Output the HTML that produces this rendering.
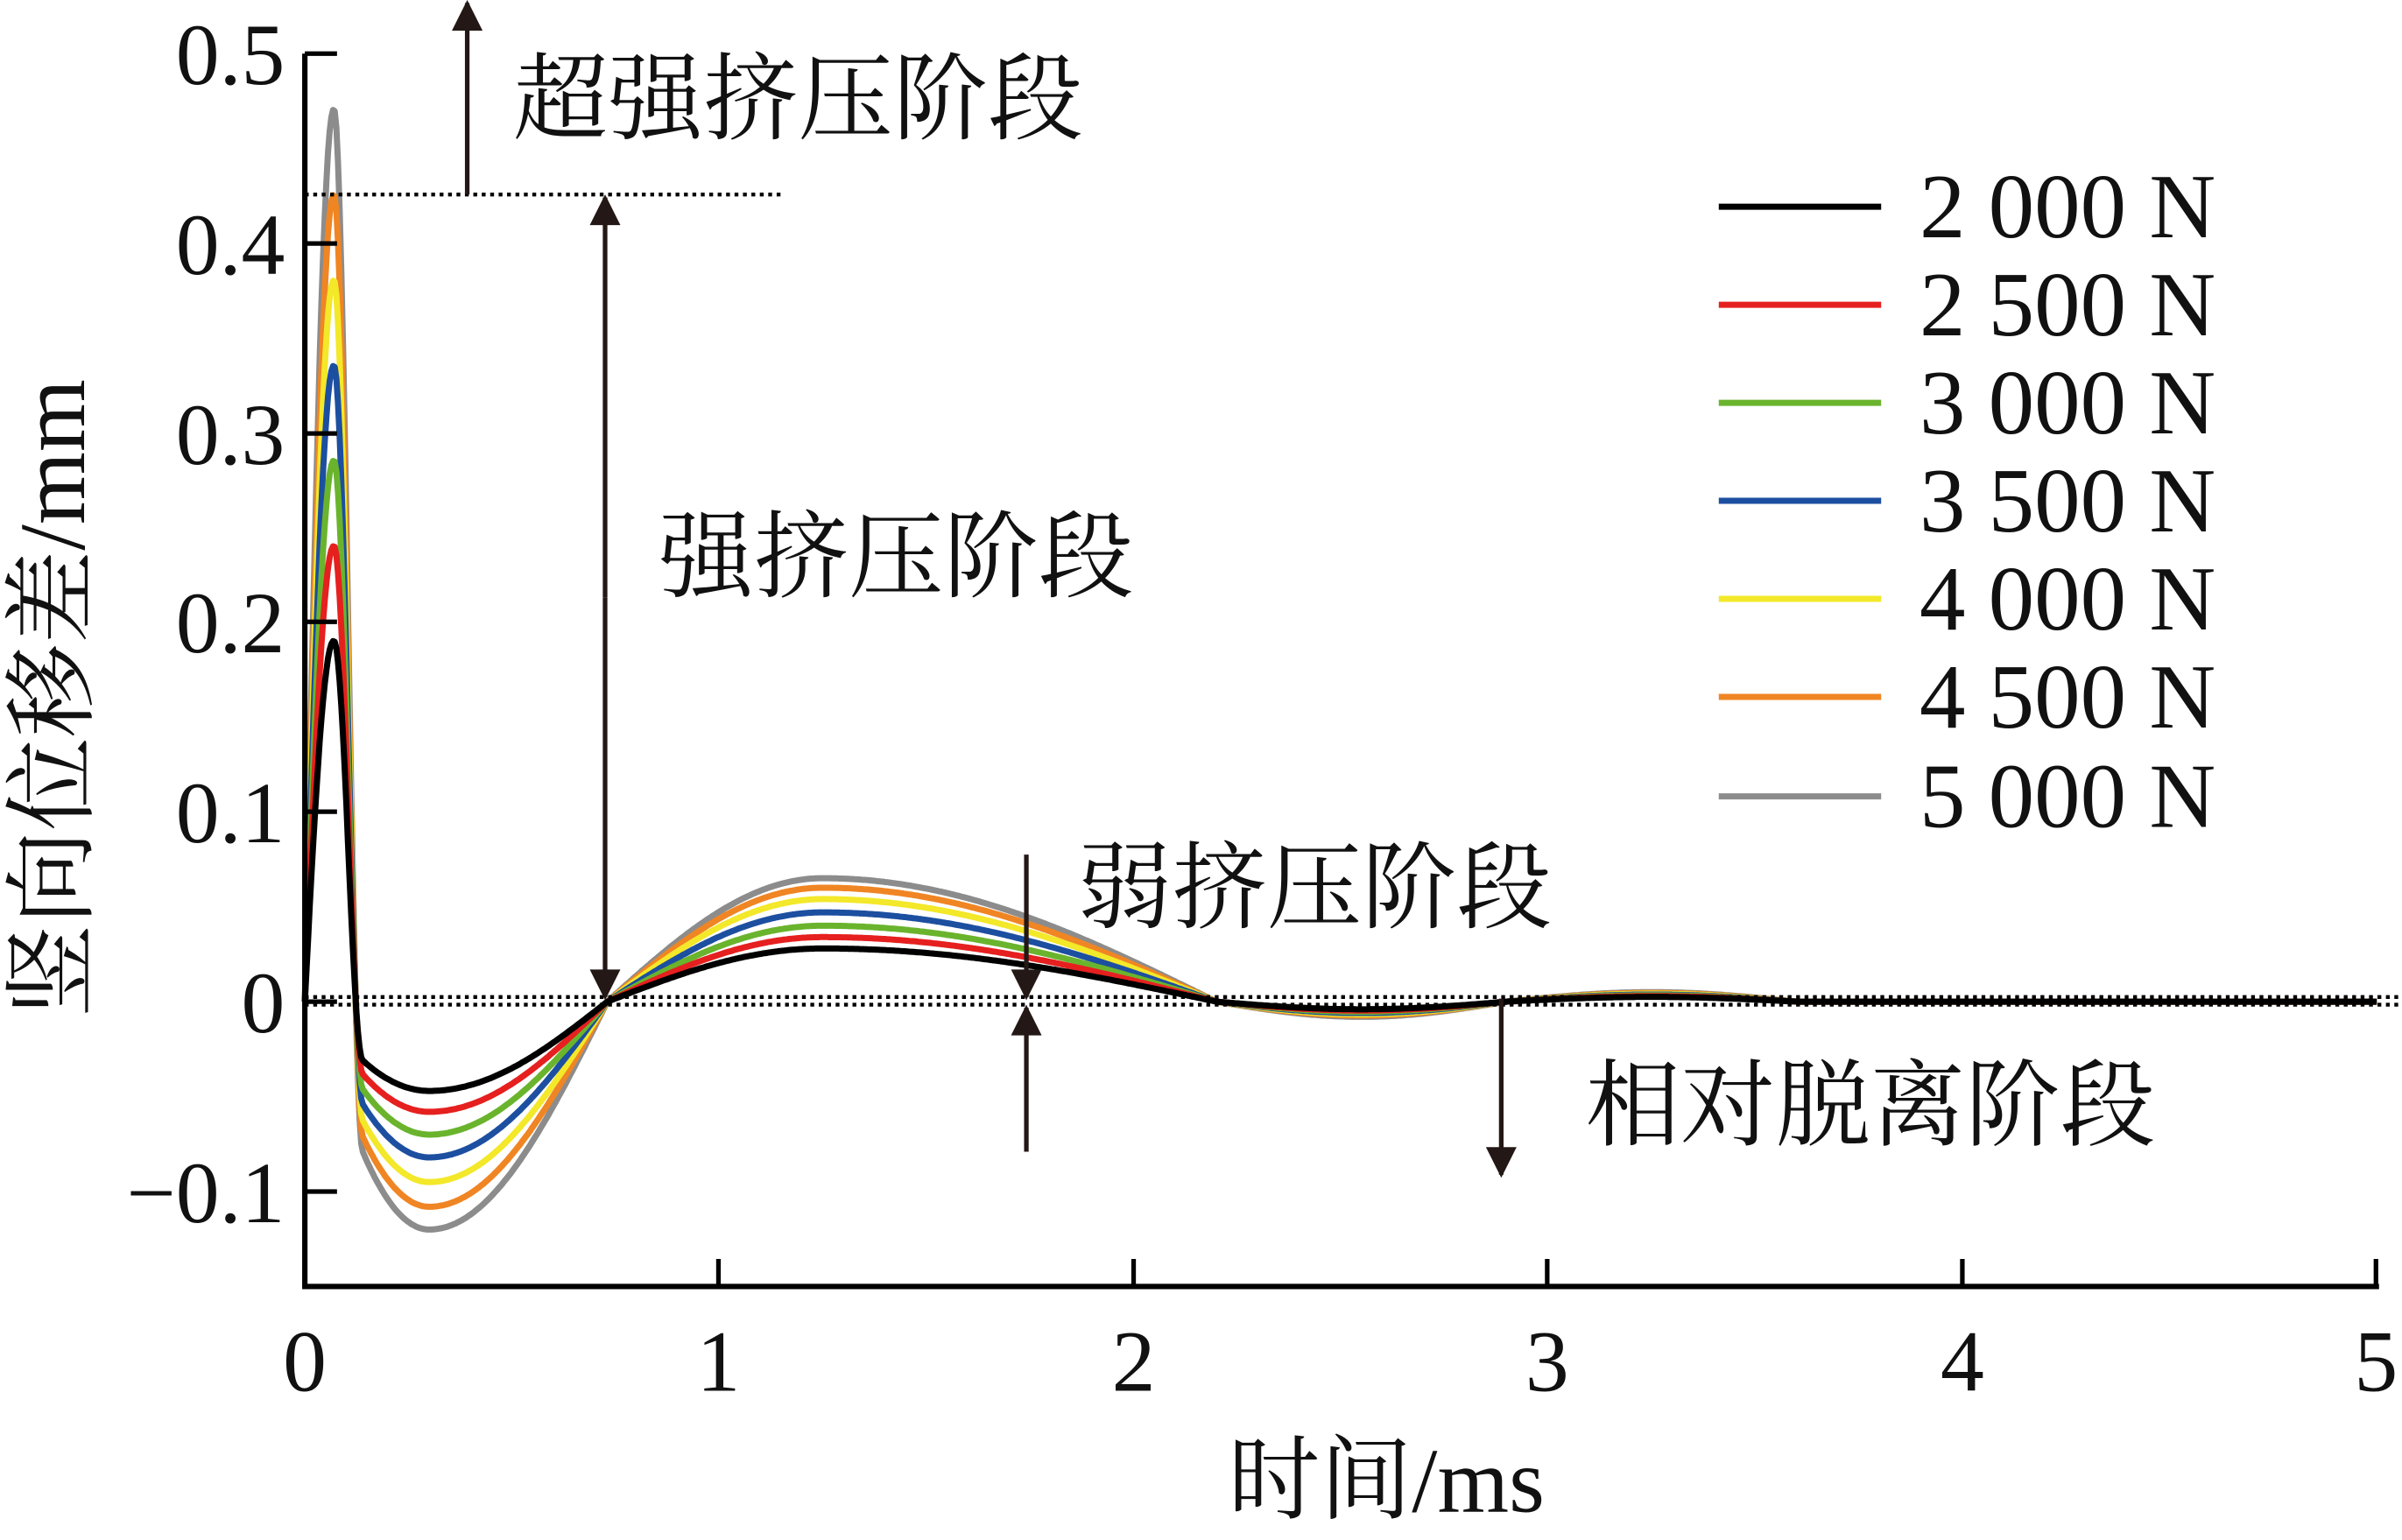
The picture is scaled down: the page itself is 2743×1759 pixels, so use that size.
<!DOCTYPE html>
<html><head><meta charset="utf-8"><style>
html,body{margin:0;padding:0;background:#fff;width:2743px;height:1759px;overflow:hidden}
svg{display:block}
text{font-family:"Liberation Serif","Noto Serif CJK SC",serif;fill:#111}
</style></head><body>
<svg id="s" width="2743" height="1759" viewBox="0 0 1568 1005.5" preserveAspectRatio="none" xmlns="http://www.w3.org/2000/svg">
<defs>
<marker id="ah" viewBox="0 0 10 10" refX="9" refY="5" markerWidth="26" markerHeight="20" orient="auto-start-reverse" markerUnits="userSpaceOnUse"><path d="M0,0 L10,5 L0,10 z" fill="#231815"/></marker>
</defs>
<g id="curves" fill="none" stroke-width="4" stroke-linejoin="round"></g>
<path d="M199,35 L199,840 L1553,840" fill="none" stroke="#000" stroke-width="3.5"/>
<g stroke="#000" stroke-width="3">
<line x1="199" y1="35" x2="220" y2="35"/><line x1="199" y1="159" x2="220" y2="159"/><line x1="199" y1="283" x2="220" y2="283"/><line x1="199" y1="406" x2="220" y2="406"/><line x1="199" y1="530" x2="220" y2="530"/><line x1="199" y1="654" x2="220" y2="654"/><line x1="199" y1="778" x2="220" y2="778"/>
<line x1="469" y1="840" x2="469" y2="822"/><line x1="740" y1="840" x2="740" y2="822"/><line x1="1010" y1="840" x2="1010" y2="822"/><line x1="1281" y1="840" x2="1281" y2="822"/><line x1="1551" y1="840" x2="1551" y2="822"/>
</g>
<g font-size="57" text-anchor="end">
<text x="186" y="55">0.5</text><text x="186" y="179">0.4</text><text x="186" y="303">0.3</text><text x="186" y="426">0.2</text><text x="186" y="550">0.1</text><text x="186" y="674">0</text><text x="186" y="798">−0.1</text>
</g>
<g font-size="57" text-anchor="middle">
<text x="199" y="908">0</text><text x="469" y="908">1</text><text x="740" y="908">2</text><text x="1010" y="908">3</text><text x="1281" y="908">4</text><text x="1551" y="908">5</text>
</g>
<text x="905" y="987" font-size="60" text-anchor="middle">时间/ms</text>
<text transform="translate(55,456) rotate(-90)" font-size="61" text-anchor="middle">竖向位移差/mm</text>
<g stroke="#000" stroke-width="2.5" stroke-dasharray="2.5,3">
<line x1="199" y1="127" x2="510" y2="127"/>
<line x1="199" y1="651" x2="1568" y2="651"/>
<line x1="199" y1="656" x2="1568" y2="656"/>
</g>
<g stroke="#231815" stroke-width="3" marker-end="url(#ah)">
<line x1="305" y1="127" x2="305" y2="2"/>
<line x1="395" y1="390" x2="395" y2="129"/>
<line x1="395" y1="390" x2="395" y2="651"/>
<line x1="670" y1="558" x2="670" y2="651"/>
<line x1="670" y1="752" x2="670" y2="658"/>
<line x1="980" y1="652" x2="980" y2="767"/>
</g>
<g font-size="62">
<text x="335" y="86">超强挤压阶段</text>
<text x="430" y="385">强挤压阶段</text>
<text x="703" y="601">弱挤压阶段</text>
<text x="1035" y="743">相对脱离阶段</text>
</g>
<g id="legend" stroke-width="4"></g>
<g font-size="60">
<text x="1253" y="155">2 000 N</text><text x="1253" y="219">2 500 N</text><text x="1253" y="283">3 000 N</text><text x="1253" y="347">3 500 N</text><text x="1253" y="411">4 000 N</text><text x="1253" y="475">4 500 N</text><text x="1253" y="540">5 000 N</text>
</g>
</svg>
<script>
var cols=["#000000","#e5201f","#6ab42d","#1c4fa0","#f3e829","#f08523","#8c8c8c"];
var P=[0.19,0.24,0.285,0.335,0.38,0.425,0.47];
var M=[-0.047,-0.058,-0.07,-0.082,-0.095,-0.108,-0.12];
var Q=[0.028,0.034,0.04,0.047,0.054,0.06,0.065];
var ns="http://www.w3.org/2000/svg";
function X(t){return 199+270.5*t}function Y(v){return 654-1240*v}
var cg=document.getElementById("curves"),lg=document.getElementById("legend");
var ys=[135,199,263,327,391,455,520];
for(var i=0;i<7;i++){
 var k=i/6+1, p=P[i],m=M[i],q=Q[i],a1=0.66*m,d="",pi=Math.PI;
 for(var t=0;t<=5.0001;t+=0.004){
  var v;
  if(t<=0.07)v=p*Math.sin(pi/2*t/0.07);
  else if(t<=0.14)v=a1+(p-a1)*(1+Math.cos(pi*(t-0.07)/0.07))/2;
  else if(t<=0.3){var u=(0.3-t)/0.16;v=m+(a1-m)*u*u;}
  else if(t<=0.73)v=m*Math.cos(pi/2*(t-0.3)/0.43);
  else if(t<=1.25)v=q*Math.sin(pi/2*(t-0.73)/0.52);
  else if(t<=2.2)v=q*Math.cos(pi/2*(t-1.25)/0.95);
  else if(t<=2.9)v=-0.004*k*Math.sin(pi*(t-2.2)/0.7);
  else if(t<=3.6)v=0.0025*k*Math.sin(pi*(t-2.9)/0.7);
  else v=0;
  d+=(d?"L":"M")+X(t).toFixed(1)+","+Y(v).toFixed(1);
 }
 var pa=document.createElementNS(ns,"path");pa.setAttribute("d",d);pa.setAttribute("stroke",cols[i]);cg.insertBefore(pa,cg.firstChild);
 var l=document.createElementNS(ns,"line");l.setAttribute("x1",1122);l.setAttribute("x2",1228);l.setAttribute("y1",ys[i]);l.setAttribute("y2",ys[i]);l.setAttribute("stroke",cols[i]);lg.appendChild(l);
}
</script>
</body></html>
